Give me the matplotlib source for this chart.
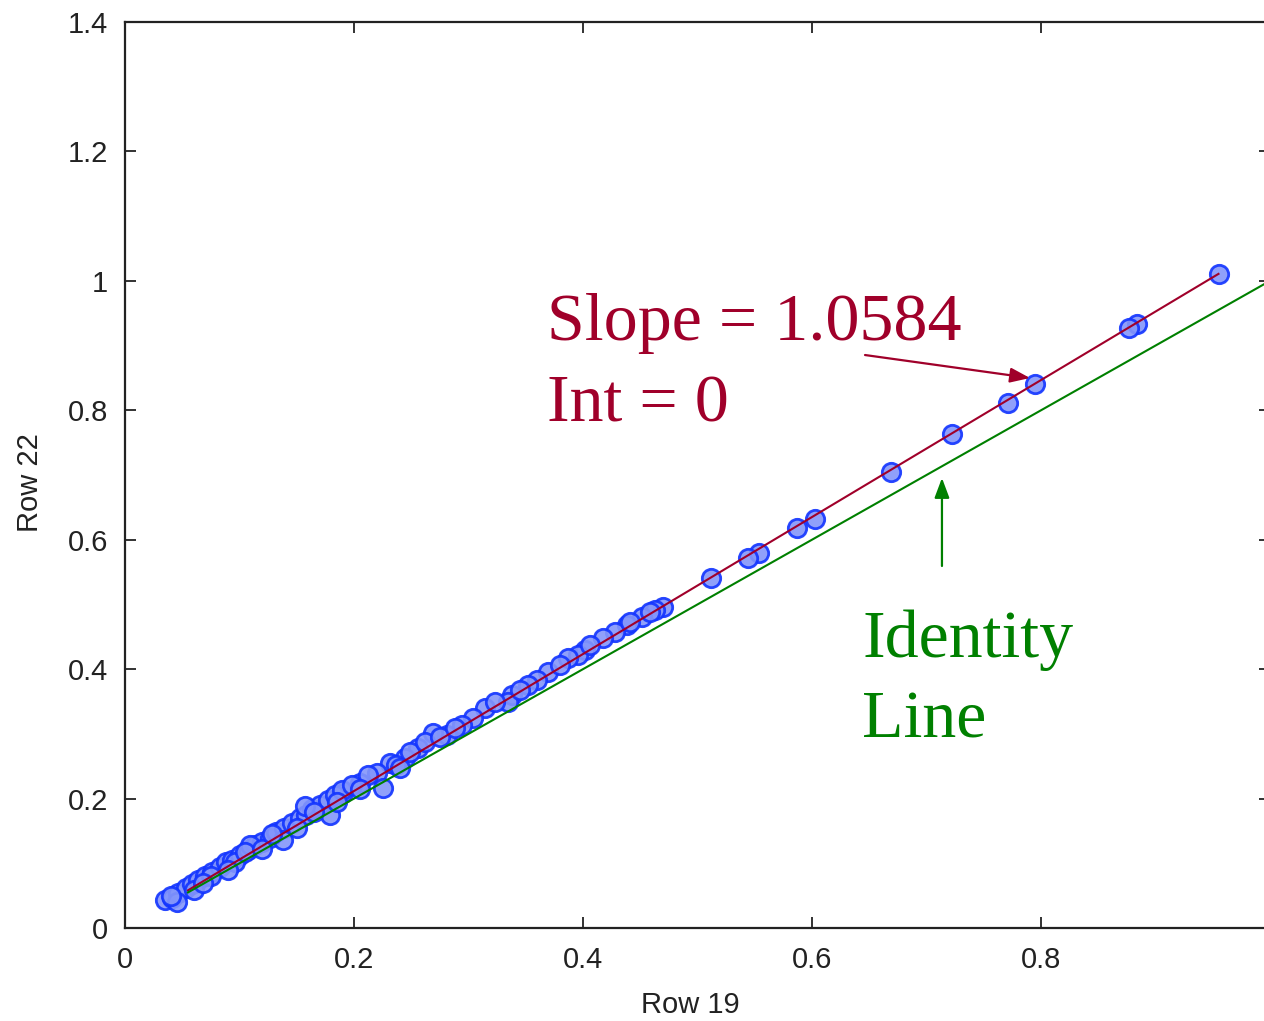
import numpy as np
import matplotlib
matplotlib.use("Agg")
from matplotlib import pyplot as plt

# Data (Row 19 vs Row 22)
row19 = [0.9555, 0.8838, 0.8769, 0.7948, 0.7712, 0.7223, 0.6690, 0.6026, 0.5869,
         0.5537, 0.5441, 0.5118,
         0.4699, 0.4629, 0.4515, 0.4384, 0.4279, 0.4175, 0.4017, 0.3956, 0.3869,
         0.3694, 0.3598, 0.3520, 0.3380, 0.3345, 0.3144, 0.3039, 0.2943, 0.2812,
         0.2690, 0.2559, 0.2445, 0.2314, 0.2201, 0.2052, 0.1904,
         0.0349, 0.0410, 0.0463, 0.0533, 0.0585, 0.0638, 0.0699, 0.0760, 0.0830,
         0.0882, 0.0934, 0.1004, 0.1074, 0.1135, 0.1197, 0.1266, 0.1319, 0.1389,
         0.1459, 0.1528, 0.1581, 0.1633, 0.1703, 0.1773, 0.1834, 0.1895,
         0.0961, 0.1380, 0.1790, 0.2253, 0.1572, 0.1092,
         0.1983, 0.2122, 0.2367, 0.2489, 0.2620, 0.2751, 0.2882, 0.3231, 0.3450,
         0.3799, 0.4061, 0.4410, 0.4585,
         0.0450, 0.0600, 0.0750, 0.0900, 0.1050, 0.1200, 0.1500, 0.1650, 0.1850,
         0.0400, 0.0680, 0.1280, 0.2050, 0.2400]
row22 = [1.0106, 0.9334, 0.9272, 0.8406, 0.8113, 0.7634, 0.7046, 0.6320, 0.6181,
         0.5795, 0.5718, 0.5408,
         0.4960, 0.4914, 0.4806, 0.4682, 0.4574, 0.4481, 0.4296, 0.4219, 0.4172,
         0.3956, 0.3832, 0.3755, 0.3600, 0.3492, 0.3400, 0.3245, 0.3137, 0.2982,
         0.3013, 0.2782, 0.2627, 0.2550, 0.2395, 0.2241, 0.2086,
         0.0433, 0.0464, 0.0541, 0.0618, 0.0680, 0.0742, 0.0804, 0.0865, 0.0943,
         0.1020, 0.1051, 0.1128, 0.1205, 0.1283, 0.1329, 0.1391, 0.1483, 0.1545,
         0.1623, 0.1700, 0.1746, 0.1839, 0.1901, 0.1978, 0.2055, 0.2132,
         0.1020, 0.1360, 0.1746, 0.2163, 0.1885, 0.1283,
         0.2210, 0.2364, 0.2519, 0.2720, 0.2874, 0.2951, 0.3091, 0.3492, 0.3678,
         0.4064, 0.4373, 0.4729, 0.4883,
         0.0400, 0.0580, 0.0800, 0.0900, 0.1180, 0.1220, 0.1550, 0.1800, 0.1950,
         0.0500, 0.0700, 0.1450, 0.2150, 0.2480]

slope = 1.0584
fit_x = [0.055, 0.955]
ident_x = [0.055, 1.0]

xticks = [0, 0.2, 0.4, 0.6, 0.8, 1]
xtick_labels = ["0", "0.2", "0.4", "0.6", "0.8", "1"]
yticks = [0, 0.2, 0.4, 0.6, 0.8, 1, 1.2, 1.4]
ytick_labels = ["0", "0.2", "0.4", "0.6", "0.8", "1", "1.2", "1.4"]

red = "#a0002a"
green = "#008000"

fig = plt.figure(figsize=(12.64, 10.21), dpi=100)
# axes runs past the right edge of the figure, like the cropped original
ax = fig.add_axes([125 / 1264, 93 / 1021, 1145 / 1264, 906 / 1021])

ax.scatter(row19, row22, s=175, facecolor="#8496fa", edgecolor="#1234ff",
           linewidth=2.0, alpha=0.9, zorder=2)
ax.plot(fit_x, [slope * v for v in fit_x], color=red, lw=1.5, zorder=3)
ax.plot(ident_x, ident_x, color=green, lw=1.5, zorder=3)

ax.set_xlim(0, 1)
ax.set_ylim(0, 1.4)
ax.set_xticks(xticks)
ax.set_xticklabels(xtick_labels)
ax.set_yticks(yticks)
ax.set_yticklabels(ytick_labels)

tick_font = dict(family=["Liberation Sans", "DejaVu Sans"], size=21, color="#222222")
for lab in ax.get_xticklabels() + ax.get_yticklabels():
    lab.set(**tick_font)
ax.tick_params(axis="both", direction="in", length=8, width=1.3, color="#222222",
               top=True, right=True)
ax.tick_params(axis="y", pad=12)
ax.tick_params(axis="x", pad=13)
for sp in ax.spines.values():
    sp.set_linewidth(1.6)
    sp.set_color("#222222")

ax.set_xlabel("Row 19", fontdict=tick_font, va="center")
ax.xaxis.set_label_coords(0.4934, -0.085)
ax.set_ylabel("Row 22", fontdict=tick_font, va="center")
ax.yaxis.set_label_coords(-0.083, 0.492)

# annotations
serif = ["Liberation Serif", "DejaVu Serif"]
ax.text(0.3686, 0.9086, "Slope = 1.0584", family=serif, size=49, color=red,
        va="baseline", ha="left")
ax.text(0.3686, 0.7819, "Int = 0", family=serif, size=49, color=red,
        va="baseline", ha="left")
ax.annotate("", xy=(0.7904, 0.8499), xytext=(0.6463, 0.8854),
            arrowprops=dict(arrowstyle="-|>,head_length=1.2,head_width=0.45",
                            color=red, lw=1.6, shrinkA=0, shrinkB=0))
ax.text(0.6437, 0.4188, "Identity", family=serif, size=49, color=green,
        va="baseline", ha="left")
ax.text(0.6437, 0.2936, "Line", family=serif, size=49, color=green,
        va="baseline", ha="left")
ax.annotate("", xy=(0.7135, 0.6954), xytext=(0.7135, 0.5594),
            arrowprops=dict(arrowstyle="-|>,head_length=1.2,head_width=0.45",
                            color=green, lw=1.6, shrinkA=0, shrinkB=0))

fig.savefig("out.png", dpi=100)
